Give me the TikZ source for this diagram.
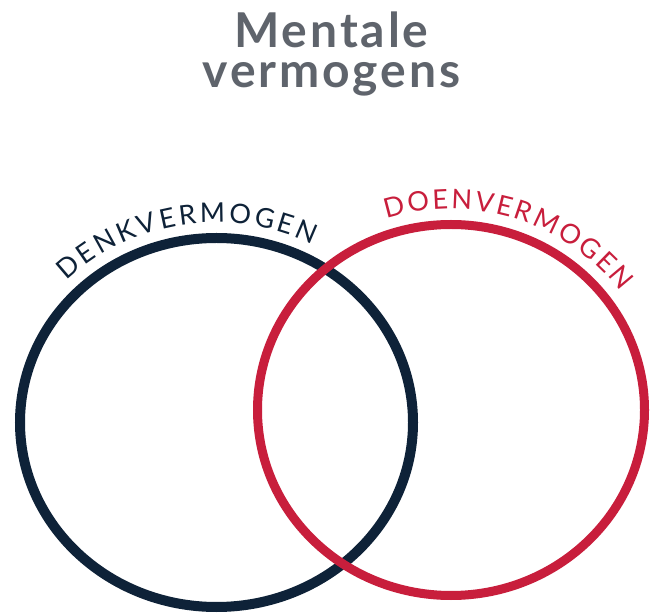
\documentclass[tikz,border=0pt]{standalone}
\usepackage{fontspec}
\usepackage{xcolor}
\usetikzlibrary{decorations.text}
\newfontfamily\titlefont[LetterSpace=6]{Lato}
\newfontfamily\arcfont{Lato}
\definecolor{denkblue}{RGB}{14,34,56}
\definecolor{doenred}{RGB}{200,30,60}
\definecolor{titlegrey}{RGB}{95,100,108}

\begin{document}
\begin{tikzpicture}[x=1pt,y=1pt,
  titletext/.style={font=\titlefont\bfseries\fontsize{48}{48}\selectfont, text=titlegrey, inner sep=0pt},
  ring/.style={line width=#1},
  arclabel/.style n args={2}{decorate, decoration={text along path, text align={fit to path},
    text color=#1, text={|\arcfont\fontsize{27}{27}\selectfont|#2}}}]
  % page
  \fill[white] (0,0) rectangle (650,613);
  % title
  \node[titletext, anchor=base] (titletop) at (331.5,565) {Mentale};
  \node[titletext, anchor=base] (titlebottom) at (331.5,525) {vermogens};
  % centres of the two rings
  \coordinate (denkc) at (216.5,190.5);
  \coordinate (doenc) at (451,203);
  % rings, red one on top
  \draw[ring=10pt, denkblue] (denkc) ellipse [x radius=196.5pt, y radius=184.5pt];
  \draw[ring=9pt, doenred] (doenc) ellipse [x radius=193.5pt, y radius=185.5pt];
  % curved labels
  \path[arclabel={denkblue}{DENKVERMOGEN}] ([shift={(135:212pt and 200pt)}]denkc)
    arc[start angle=135, end angle=63, x radius=212pt, y radius=200pt];
  \path[arclabel={doenred}{DOENVERMOGEN}] ([shift={(108:209pt and 201pt)}]doenc)
    arc[start angle=108, end angle=36, x radius=209pt, y radius=201pt];
\end{tikzpicture}
\end{document}
